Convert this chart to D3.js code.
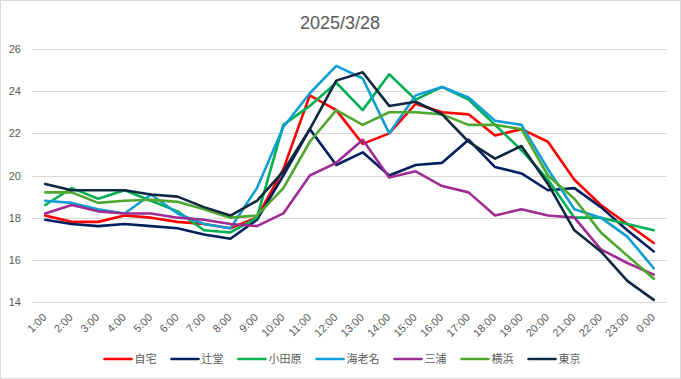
<!DOCTYPE html>
<html>
<head>
<meta charset="utf-8">
<script src="https://cdn.jsdelivr.net/npm/d3@7/dist/d3.min.js"></script>
<style>
  html, body { margin: 0; padding: 0; background: #fff; }
  svg { display: block; }
  text { font-family: "Liberation Sans", Arial, "Noto Sans CJK JP", sans-serif; fill: #595959; }
</style>
</head>
<body>
<svg id="chart" width="681" height="379"></svg>
<script>
const title = "2025/3/28";
const hours = ["1:00","2:00","3:00","4:00","5:00","6:00","7:00","8:00","9:00","10:00","11:00","12:00",
               "13:00","14:00","15:00","16:00","17:00","18:00","19:00","20:00","21:00","22:00","23:00","0:00"];
const yTicks = [14, 16, 18, 20, 22, 24, 26];

const seriesNames = ["自宅", "辻堂", "小田原", "海老名", "三浦", "横浜", "東京"];
const home     = [18.1, 17.8, 17.8, 18.1, 18.0, 17.8, 17.7, 17.5, 18.0, 20.3, 23.8, 23.1, 21.5, 22.0, 23.4, 23.0, 22.9, 21.9, 22.2, 21.6, 19.8, 18.6, 17.7, 16.8];
const tsujido  = [17.9, 17.7, 17.6, 17.7, 17.6, 17.5, 17.2, 17.0, 17.9, 20.0, 22.2, 20.5, 21.1, 20.0, 20.5, 20.6, 21.7, 20.4, 20.1, 19.3, 19.4, 18.5, 17.4, 16.4];
const odawara  = [18.6, 19.4, 18.9, 19.3, 18.8, 18.3, 17.4, 17.3, 18.0, 22.4, 23.3, 24.4, 23.1, 24.8, 23.6, 24.2, 23.6, 22.4, 21.2, 19.8, 18.0, 18.0, 17.7, 17.4];
const ebina    = [18.8, 18.7, 18.4, 18.2, 19.1, 18.2, 17.7, 17.5, 19.4, 22.3, 23.9, 25.2, 24.6, 22.0, 23.8, 24.2, 23.7, 22.6, 22.4, 20.3, 18.4, 18.0, 17.1, 15.6];
const miura    = [18.2, 18.6, 18.3, 18.2, 18.2, 18.0, 17.9, 17.7, 17.6, 18.2, 20.0, 20.6, 21.7, 19.9, 20.2, 19.5, 19.2, 18.1, 18.4, 18.1, 18.0, 16.5, 15.85, 15.3];
const yokohama = [19.2, 19.2, 18.7, 18.8, 18.85, 18.75, 18.4, 18.0, 18.1, 19.4, 21.6, 23.1, 22.4, 23.0, 23.0, 22.9, 22.4, 22.4, 22.2, 20.0, 18.9, 17.3, 16.2, 15.1];
const tokyo    = [19.6, 19.3, 19.3, 19.3, 19.1, 19.0, 18.5, 18.1, 18.8, 20.2, 22.2, 24.5, 24.9, 23.3, 23.5, 22.9, 21.6, 20.8, 21.4, 19.6, 17.4, 16.4, 15.0, 14.1];
const colors   = ["#FF0000", "#002060", "#00B050", "#0F9ED5", "#A02B93", "#4EA72E", "#0E2841"];

const seriesValues = [home, tsujido, odawara, ebina, miura, yokohama, tokyo];
const series = seriesNames.map((name, i) => ({ name, values: seriesValues[i], color: colors[i] }));

const W = 681, H = 379;
const plot = { left: 32, right: 667, top: 49, bottom: 302 };

const svg = d3.select("#chart");

// chart border
svg.append("rect").attr("x", 0.5).attr("y", 0.5).attr("width", W - 1).attr("height", H - 1)
  .attr("fill", "#fff").attr("stroke", "#D9D9D9").attr("stroke-width", 1);

// title
svg.append("text").attr("x", 340).attr("y", 28.5).attr("text-anchor", "middle")
  .style("font-size", "18px").text(title);

const x = d3.scaleBand().domain(hours).range([plot.left, plot.right]);
const xc = d => x(d) + x.bandwidth() / 2;
const y = d3.scaleLinear().domain([14, 26]).range([plot.bottom, plot.top]);

// gridlines
svg.append("g").selectAll("line").data(yTicks).join("line")
  .attr("x1", plot.left).attr("x2", plot.right)
  .attr("y1", d => Math.round(y(d)) + 0.5).attr("y2", d => Math.round(y(d)) + 0.5)
  .attr("stroke", "#D9D9D9").attr("stroke-width", 1);

// y axis labels
const yAxis = d3.axisLeft(y).tickValues(yTicks).tickSize(0).tickPadding(0).tickFormat(d3.format("d"));
const gy = svg.append("g").attr("transform", `translate(21,0)`).call(yAxis);
gy.select(".domain").remove();
gy.selectAll("text").style("font-size", "11px").attr("fill", "#595959");

// x axis labels
const xAxis = d3.axisBottom(x).tickSize(0).tickPadding(0);
const gx = svg.append("g").attr("transform", `translate(0,0)`).call(xAxis);
gx.select(".domain").remove();
gx.selectAll(".tick").attr("transform", d => `translate(${xc(d) + 2},318)`);
gx.selectAll("text").attr("y", 0).attr("dy", 0).attr("x", 0)
  .attr("text-anchor", "end").attr("transform", "rotate(-45)")
  .style("font-size", "11px").attr("fill", "#595959");

// lines
const line = d3.line().x((d, i) => xc(hours[i])).y(d => y(d));
svg.append("g").selectAll("path").data(series).join("path")
  .attr("d", s => line(s.values))
  .attr("fill", "none").attr("stroke", s => s.color)
  .attr("stroke-width", 2.6).attr("stroke-linejoin", "round").attr("stroke-linecap", "round");

// legend
const lg = svg.append("g");
const items = lg.selectAll("g").data(series).join("g");
items.append("line").attr("x1", 0).attr("x2", 27).attr("y1", 359).attr("y2", 359)
  .attr("stroke", s => s.color).attr("stroke-width", 2.6).attr("stroke-linecap", "round");
items.append("text").attr("x", 30).attr("y", 359).attr("dy", "0.36em")
  .style("font-size", "11px").text(s => s.name);
let widths = [];
items.each(function () { widths.push(this.getBBox().width); });
const gap = 15;
const total = d3.sum(widths) + gap * (widths.length - 1);
let cx = 342.5 - total / 2;
items.attr("transform", (s, i) => { const t = `translate(${cx},0)`; cx += widths[i] + gap; return t; });
</script>
</body>
</html>
